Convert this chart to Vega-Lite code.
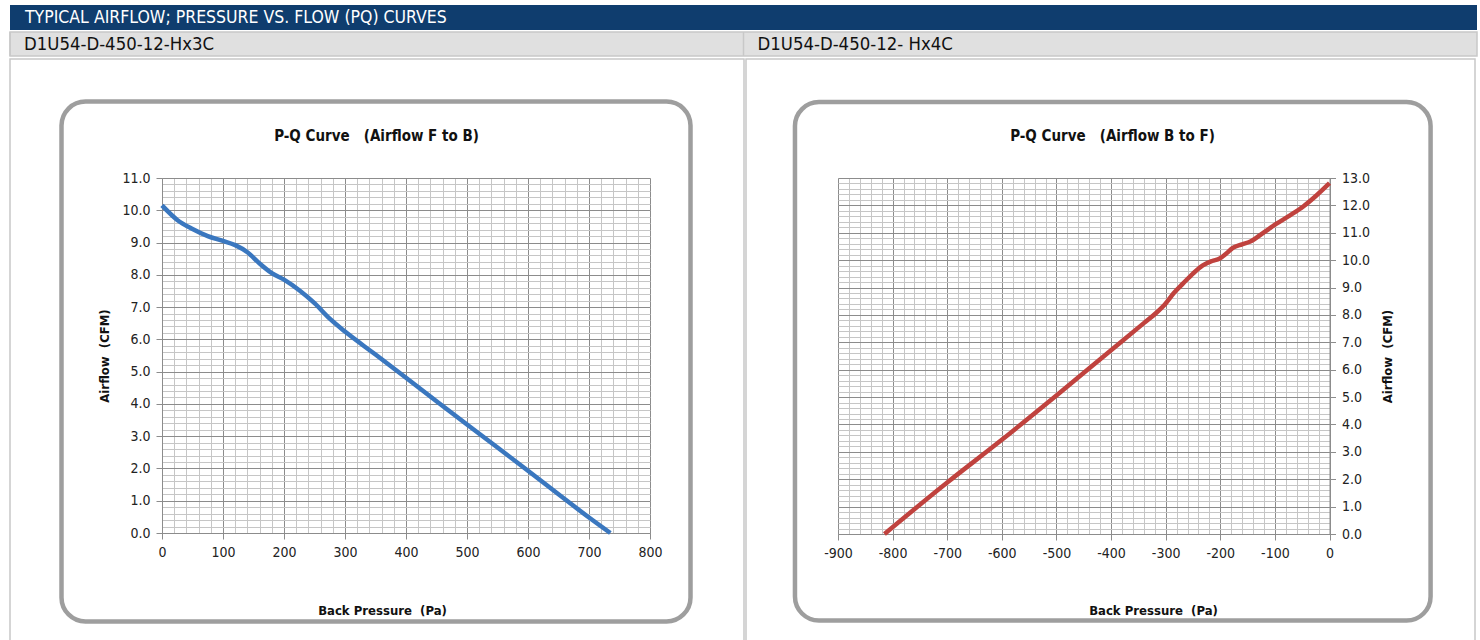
{
  "$schema": "https://vega.github.io/schema/vega-lite/v6.json",
  "background": "white",
  "padding": {"left": 8, "top": 5, "right": 4, "bottom": 0},
  "spacing": 0,
  "config": {
    "font": "Liberation Sans Narrow, DejaVu Sans Condensed, Roboto Condensed, Arial Narrow, sans-serif",
    "view": {"stroke": null},
    "axis": {"labelFlush": false}
  },
  "vconcat": [
    {
      "width": 1467,
      "height": 25,
      "view": {"fill": "#0f3d6e", "stroke": null},
      "data": {"values": [{"heading": "TYPICAL AIRFLOW; PRESSURE VS. FLOW (PQ) CURVES"}]},
      "mark": {"type": "text", "align": "left", "baseline": "middle", "color": "white", "fontSize": 17.5, "dx": 15},
      "encoding": {
        "text": {"field": "heading"},
        "x": {"field": "heading", "type": "nominal", "bandPosition": 0, "axis": null, "scale": {"type": "band", "paddingInner": 0, "paddingOuter": 0}}
      }
    },
    {
      "width": 1467,
      "height": 24,
      "view": {"fill": "#e0e0e0", "stroke": "#c8c8c8", "strokeWidth": 1.5},
      "data": {"values": [{"model": "D1U54-D-450-12-Hx3C"}, {"model": "D1U54-D-450-12- Hx4C"}]},
      "encoding": {
        "x": {"field": "model", "type": "nominal", "sort": null, "bandPosition": 0, "axis": null, "scale": {"type": "band", "paddingInner": 0, "paddingOuter": 0}}
      },
      "layer": [
        {"mark": {"type": "rule", "color": "#c8c8c8", "strokeWidth": 1.5}, "encoding": {}},
        {"mark": {"type": "text", "align": "left", "baseline": "middle", "fontSize": 18.4, "dx": 14, "color": "#111111"}, "encoding": {"text": {"field": "model"}}}
      ]
    },
    {
      "spacing": 0,
      "hconcat": [
        {
          "width": 734,
          "height": 585,
          "view": {"fill": "white", "stroke": "#c8c8c8", "strokeWidth": 1.5},
          "data": {"values": [
            {"pressure": 0, "airflow": 10.15},
            {"pressure": 25, "airflow": 9.7},
            {"pressure": 50, "airflow": 9.42},
            {"pressure": 75, "airflow": 9.2},
            {"pressure": 100, "airflow": 9.05},
            {"pressure": 120, "airflow": 8.92},
            {"pressure": 140, "airflow": 8.7},
            {"pressure": 160, "airflow": 8.35},
            {"pressure": 180, "airflow": 8.05},
            {"pressure": 200, "airflow": 7.85},
            {"pressure": 225, "airflow": 7.52},
            {"pressure": 250, "airflow": 7.12},
            {"pressure": 275, "airflow": 6.64},
            {"pressure": 300, "airflow": 6.24},
            {"pressure": 350, "airflow": 5.53},
            {"pressure": 400, "airflow": 4.81},
            {"pressure": 450, "airflow": 4.08},
            {"pressure": 500, "airflow": 3.36},
            {"pressure": 550, "airflow": 2.65},
            {"pressure": 600, "airflow": 1.93},
            {"pressure": 650, "airflow": 1.2},
            {"pressure": 700, "airflow": 0.48},
            {"pressure": 735, "airflow": 0}
          ]},
          "layer": [
            {
              "data": {"values": [{"panel": "F to B"}]},
              "mark": {"type": "rect", "fill": "transparent", "stroke": "#9e9e9e", "strokeWidth": 4.5, "cornerRadius": 24, "clip": false},
              "encoding": {
                "x": {"datum": -164.75, "type": "quantitative", "scale": {"domain": [0, 800], "range": [152, 640], "nice": false, "zero": false},
                      "axis": {"orient": "top", "grid": true, "tickCount": 40, "labels": false, "ticks": false, "domain": false, "gridColor": "#c6c6c6", "gridWidth": 1,
                               "title": "P-Q Curve\u00a0\u00a0\u00a0(Airflow F to B)", "titleFontSize": 15, "titleFontWeight": "bold", "titleColor": "#111111",
                               "titleX": 366, "titleY": 81, "titleAlign": "center", "titleBaseline": "alphabetic"}},
                "x2": {"datum": 866.4},
                "y": {"datum": 13.37, "type": "quantitative", "scale": {"domain": [0, 11], "range": [474, 119], "nice": false, "zero": false},
                      "axis": {"orient": "left", "grid": true, "tickCount": 55, "labels": false, "ticks": false, "domain": false, "title": null, "gridColor": "#c6c6c6", "gridWidth": 1}},
                "y2": {"datum": -2.742}
              }
            },
            {
              "mark": {"type": "line", "color": "#3a77bf", "strokeWidth": 4.5, "interpolate": "monotone", "opacity": 0},
              "encoding": {
                "x": {"field": "pressure", "type": "quantitative", "scale": {"domain": [0, 800], "range": [152, 640], "nice": false, "zero": false},
                      "axis": {"orient": "top", "values": [0, 100, 200, 300, 400, 500, 600, 700, 800], "grid": true, "gridColor": "#8c8c8c", "gridWidth": 1, "labels": false, "ticks": false, "domain": false, "title": null}},
                "y": {"field": "airflow", "type": "quantitative", "scale": {"domain": [0, 11], "range": [474, 119], "nice": false, "zero": false},
                      "axis": {"orient": "left", "values": [0, 1, 2, 3, 4, 5, 6, 7, 8, 9, 10, 11], "grid": true, "gridColor": "#8c8c8c", "gridWidth": 1, "labels": false, "ticks": false, "domain": false, "title": null}}
              }
            },
            {
              "mark": {"type": "line", "color": "#3a77bf", "strokeWidth": 4.5, "interpolate": "monotone"},
              "encoding": {
                "x": {"field": "pressure", "type": "quantitative", "scale": {"domain": [0, 800], "range": [152, 640], "nice": false, "zero": false},
                      "axis": {"orient": "bottom", "offset": -111, "values": [0, 100, 200, 300, 400, 500, 600, 700, 800], "labelExpr": "'' + datum.value", "grid": false,
                               "domainColor": "#8c8c8c", "tickColor": "#8c8c8c", "tickSize": 6, "labelPadding": 6, "labelFontSize": 14, "labelColor": "#222222",
                               "title": "Back Pressure\u00a0\u00a0(Pa)", "titleFontSize": 13, "titleFontWeight": "bold", "titleColor": "#111111",
                               "titleX": 372, "titleY": 81, "titleAlign": "center", "titleBaseline": "alphabetic"}},
                "y": {"field": "airflow", "type": "quantitative", "scale": {"domain": [0, 11], "range": [474, 119], "nice": false, "zero": false},
                      "axis": {"orient": "left", "offset": -152, "values": [0, 1, 2, 3, 4, 5, 6, 7, 8, 9, 10, 11], "format": ".1f", "grid": false,
                               "domainColor": "#8c8c8c", "tickColor": "#8c8c8c", "tickSize": 6, "labelPadding": 6, "labelFontSize": 14, "labelColor": "#222222",
                               "title": "Airflow\u00a0\u00a0(CFM)", "titleFontSize": 13, "titleFontWeight": "bold", "titleColor": "#111111",
                               "titleAngle": 270, "titleX": -58, "titleY": 296.5, "titleAlign": "center", "titleBaseline": "middle"}}
              }
            }
          ],
          "resolve": {"axis": {"x": "independent", "y": "independent"}}
        },
        {
          "width": 729,
          "height": 585,
          "view": {"fill": "white", "stroke": "#c8c8c8", "strokeWidth": 1.5},
          "data": {"values": [
            {"pressure": -815, "airflow": 0},
            {"pressure": -700, "airflow": 1.88},
            {"pressure": -600, "airflow": 3.44},
            {"pressure": -500, "airflow": 5.06},
            {"pressure": -400, "airflow": 6.71},
            {"pressure": -340, "airflow": 7.7},
            {"pressure": -317, "airflow": 8.08},
            {"pressure": -300, "airflow": 8.42},
            {"pressure": -285, "airflow": 8.8},
            {"pressure": -268, "airflow": 9.15},
            {"pressure": -250, "airflow": 9.51},
            {"pressure": -232, "airflow": 9.81},
            {"pressure": -215, "airflow": 9.97},
            {"pressure": -201, "airflow": 10.06},
            {"pressure": -189, "airflow": 10.24},
            {"pressure": -177, "airflow": 10.45},
            {"pressure": -160, "airflow": 10.58},
            {"pressure": -146, "airflow": 10.67},
            {"pressure": -122, "airflow": 10.99},
            {"pressure": -97, "airflow": 11.33},
            {"pressure": -73, "airflow": 11.63},
            {"pressure": -48, "airflow": 11.96},
            {"pressure": -24, "airflow": 12.36},
            {"pressure": 0, "airflow": 12.81}
          ]},
          "layer": [
            {
              "data": {"values": [{"panel": "B to F"}]},
              "mark": {"type": "rect", "fill": "transparent", "stroke": "#9e9e9e", "strokeWidth": 4.5, "cornerRadius": 24, "clip": false},
              "encoding": {
                "x": {"datum": -978.8, "type": "quantitative", "scale": {"domain": [-900, 0], "range": [92, 583.5], "nice": false, "zero": false},
                      "axis": {"orient": "top", "grid": true, "tickCount": 45, "labels": false, "ticks": false, "domain": false, "gridColor": "#c6c6c6", "gridWidth": 1,
                               "title": "P-Q Curve\u00a0\u00a0\u00a0(Airflow B to F)", "titleFontSize": 15, "titleFontWeight": "bold", "titleColor": "#111111",
                               "titleX": 366, "titleY": 81, "titleAlign": "center", "titleBaseline": "alphabetic"}},
                "x2": {"datum": 185.1},
                "y": {"datum": 15.775, "type": "quantitative", "scale": {"domain": [0, 13], "range": [475, 119], "nice": false, "zero": false},
                      "axis": {"orient": "left", "grid": true, "tickCount": 65, "labels": false, "ticks": false, "domain": false, "title": null, "gridColor": "#c6c6c6", "gridWidth": 1}},
                "y2": {"datum": -3.159}
              }
            },
            {
              "mark": {"type": "line", "color": "#c0423e", "strokeWidth": 4.5, "interpolate": "monotone", "opacity": 0},
              "encoding": {
                "x": {"field": "pressure", "type": "quantitative", "scale": {"domain": [-900, 0], "range": [92, 583.5], "nice": false, "zero": false},
                      "axis": {"orient": "top", "values": [-900, -800, -700, -600, -500, -400, -300, -200, -100, 0], "grid": true, "gridColor": "#8c8c8c", "gridWidth": 1, "labels": false, "ticks": false, "domain": false, "title": null}},
                "y": {"field": "airflow", "type": "quantitative", "scale": {"domain": [0, 13], "range": [475, 119], "nice": false, "zero": false},
                      "axis": {"orient": "left", "values": [0, 1, 2, 3, 4, 5, 6, 7, 8, 9, 10, 11, 12, 13], "grid": true, "gridColor": "#8c8c8c", "gridWidth": 1, "labels": false, "ticks": false, "domain": false, "title": null}}
              }
            },
            {
              "mark": {"type": "line", "color": "#c0423e", "strokeWidth": 4.5, "interpolate": "monotone"},
              "encoding": {
                "x": {"field": "pressure", "type": "quantitative", "scale": {"domain": [-900, 0], "range": [92, 583.5], "nice": false, "zero": false},
                      "axis": {"orient": "bottom", "offset": -110, "values": [-900, -800, -700, -600, -500, -400, -300, -200, -100, 0], "labelExpr": "'' + datum.value", "grid": false,
                               "domainColor": "#8c8c8c", "tickColor": "#8c8c8c", "tickSize": 6, "labelPadding": 6, "labelFontSize": 14, "labelColor": "#222222",
                               "title": "Back Pressure\u00a0\u00a0(Pa)", "titleFontSize": 13, "titleFontWeight": "bold", "titleColor": "#111111",
                               "titleX": 407, "titleY": 80, "titleAlign": "center", "titleBaseline": "alphabetic"}},
                "y": {"field": "airflow", "type": "quantitative", "scale": {"domain": [0, 13], "range": [475, 119], "nice": false, "zero": false},
                      "axis": {"orient": "right", "offset": -145.5, "values": [0, 1, 2, 3, 4, 5, 6, 7, 8, 9, 10, 11, 12, 13], "format": ".1f", "grid": false,
                               "domainColor": "#8c8c8c", "tickColor": "#8c8c8c", "tickSize": 6, "labelPadding": 6, "labelFontSize": 14, "labelColor": "#222222",
                               "title": "Airflow\u00a0\u00a0(CFM)", "titleFontSize": 13, "titleFontWeight": "bold", "titleColor": "#111111",
                               "titleAngle": 270, "titleX": 58, "titleY": 297, "titleAlign": "center", "titleBaseline": "middle"}}
              }
            }
          ],
          "resolve": {"axis": {"x": "independent", "y": "independent"}}
        }
      ]
    }
  ]
}
